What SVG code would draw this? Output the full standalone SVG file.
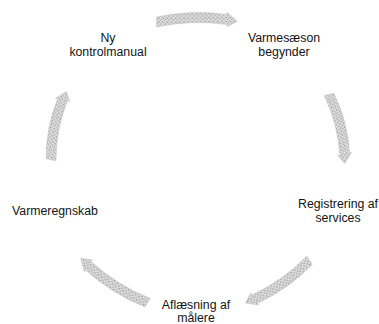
<svg xmlns="http://www.w3.org/2000/svg" width="379" height="324" viewBox="0 0 379 324">
  <style>
    .lbl { font-family: "Liberation Sans", Arial, sans-serif; font-size: 12.3px; fill: #141414; text-anchor: middle; }
    .arrow { fill: url(#dither); stroke: #bdbdbd; stroke-width: 0.5; }
  </style>
  <defs>
    <pattern id="dither" width="4" height="4" patternUnits="userSpaceOnUse">
      <rect width="4" height="4" fill="#dedede"/>
      <rect x="0" y="0" width="1" height="1" fill="#8e8e8e"/>
      <rect x="2" y="1" width="1" height="1" fill="#aaaaaa"/>
      <rect x="1" y="2" width="1" height="1" fill="#9a9a9a"/>
      <rect x="3" y="3" width="1" height="1" fill="#b8b8b8"/>
      <rect x="3" y="0" width="1" height="1" fill="#c6c6c6"/>
    </pattern>
    <path id="arc-arrow" class="arrow" d="M-38,-5 Q-4.5,-12.05 29,-6.67 L29,-8.8 L39,0.2 L29,5.5 L29,3.33 Q-4.5,-2.05 -38,5 Z"/>
  </defs>
  <rect width="379" height="324" fill="#ffffff"/>
  <g id="connectors">
    <use href="#arc-arrow" transform="translate(196.5,21.5) rotate(-0.7) scale(1.05,1)"/>
    <use href="#arc-arrow" transform="translate(337,128.5) rotate(76.9) scale(0.92,1)"/>
    <use href="#arc-arrow" transform="translate(278,281.5) rotate(146.1)"/>
    <use href="#arc-arrow" transform="translate(114.5,281) rotate(213.3) scale(1.04,1)"/>
    <use href="#arc-arrow" transform="translate(58.5,126) rotate(-77.6) scale(0.91,1)"/>
  </g>
  <g id="node-ny-kontrolmanual">
    <text class="lbl" x="108" y="42">Ny</text>
    <text class="lbl" x="108" y="56">kontrolmanual</text>
  </g>
  <g id="node-varmesaeson">
    <text class="lbl" x="284" y="42">Varmesæson</text>
    <text class="lbl" x="284" y="56">begynder</text>
  </g>
  <g id="node-registrering">
    <text class="lbl" x="338" y="208">Registrering af</text>
    <text class="lbl" x="338" y="222">services</text>
  </g>
  <g id="node-aflaesning">
    <text class="lbl" x="196" y="309">Aflæsning af</text>
    <text class="lbl" x="196" y="322">målere</text>
  </g>
  <g id="node-varmeregnskab">
    <text class="lbl" x="55" y="215">Varmeregnskab</text>
  </g>
</svg>
